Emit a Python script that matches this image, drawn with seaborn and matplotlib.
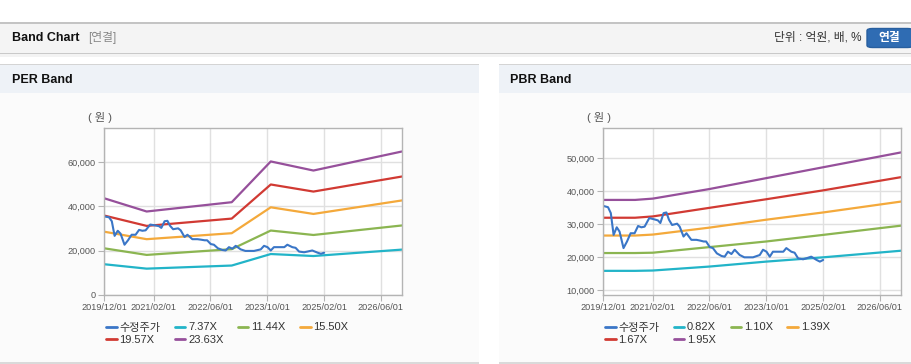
import pandas as pd
import matplotlib
matplotlib.use("Agg")
import matplotlib.pyplot as plt
import matplotlib.dates as mdates
from matplotlib.patches import Rectangle, FancyBboxPatch
from matplotlib.ticker import FuncFormatter
from matplotlib.lines import Line2D
import seaborn as sns

# adjusted share price (수정주가)
price_dates = ['2019-12-01', '2020-01-13', '2020-02-06', '2020-03-01', '2020-03-28', '2020-04-21',
               '2020-05-25', '2020-06-24', '2020-07-25', '2020-08-28', '2020-09-27', '2020-10-25',
               '2020-11-22', '2021-01-01', '2021-02-04', '2021-03-16', '2021-04-06', '2021-05-04',
               '2021-05-28', '2021-06-19', '2021-07-16', '2021-08-28', '2021-09-19', '2021-10-22',
               '2021-11-16', '2021-12-28', '2022-02-10', '2022-03-10', '2022-04-13', '2022-05-04',
               '2022-06-04', '2022-07-01', '2022-08-04', '2022-09-13', '2022-10-10', '2022-11-07',
               '2022-12-07', '2023-01-04', '2023-02-16', '2023-03-28', '2023-06-10', '2023-08-07',
               '2023-09-04', '2023-10-04', '2023-11-01', '2023-11-28', '2024-01-10', '2024-02-25',
               '2024-03-22', '2024-05-04', '2024-06-01', '2024-07-01', '2024-08-13', '2024-09-10',
               '2024-10-22', '2024-12-07', '2025-01-04', '2025-02-01']
price_vals = [35500, 35100, 33300, 26700, 29000, 27700,
              22700, 24700, 27200, 27200, 29400, 29000,
              29200, 31800, 31500, 31100, 30300, 33300,
              33500, 31300, 29700, 30100, 29200, 26200,
              27200, 25200, 25200, 25000, 24700, 24700,
              23000, 22700, 21100, 20300, 20100, 21600,
              20900, 22200, 20600, 19900, 19900, 20600,
              22200, 21600, 20100, 21600, 21600, 21600,
              22700, 21600, 21300, 19600, 19300, 19600,
              20100, 19100, 18600, 19100]

# PER band
per_dates = ['2019-12-01', '2020-12-01', '2022-12-01', '2023-11-01', '2024-11-01', '2026-12-01']
per_labels = ['7.37X', '11.44X', '15.50X', '19.57X', '23.63X']
per_737 = [13900, 11900, 13300, 18500, 17600, 20500]
per_1144 = [21100, 18100, 20700, 29100, 27100, 31400]
per_1550 = [28600, 25200, 27900, 39600, 36600, 42700]
per_1957 = [35900, 31200, 34500, 49900, 46700, 53500]
per_2363 = [43700, 37700, 41900, 60300, 56200, 64800]

# PBR band
pbr_dates = ['2019-12-01', '2020-09-01', '2021-02-01', '2022-06-01', '2023-10-01', '2025-02-01', '2026-12-01']
pbr_labels = ['0.82X', '1.10X', '1.39X', '1.67X', '1.95X']
pbr_082 = [15800, 15800, 15900, 17100, 18600, 19900, 21900]
pbr_110 = [21200, 21200, 21300, 23000, 24700, 26700, 29500]
pbr_139 = [26500, 26500, 26800, 28900, 31300, 33500, 36800]
pbr_167 = [31900, 31900, 32300, 34900, 37500, 40200, 44200]
pbr_195 = [37300, 37300, 37700, 40600, 43900, 47200, 51700]

x_ticks = ['2019-12-01', '2021-02-01', '2022-06-01', '2023-10-01', '2025-02-01', '2026-06-01']

price_color = '#3a76c7'
band_colors = ['#22b4c8', '#8bb551', '#f4a93b', '#d13a33', '#96509b']

sns.set_style("white")
plt.rcParams['font.family'] = ['Liberation Sans', 'Noto Sans CJK KR', 'DejaVu Sans']

W, H = 912, 364
fig = plt.figure(figsize=(W / 100, H / 100), dpi=100)
fig.patch.set_facecolor('white')


def box(x, y, w, h, color, z=-5):
    fig.add_artist(Rectangle((x / W, 1 - (y + h) / H), w / W, h / H, transform=fig.transFigure,
                             facecolor=color, edgecolor='none', zorder=z))


def txt(x, y, s, **kw):
    fig.text(x / W, 1 - y / H, s, va='center', **kw)


# page header bar
box(0, 22, W, 1.5, '#c4c4c4')
box(0, 23.5, W, 29, '#f4f4f4')
box(0, 52.5, W, 1.5, '#c9c9c9')
box(0, 54, W, 3, '#f3f3f3')
txt(12, 38, 'Band Chart', fontsize=9, fontweight='bold', color='#111111')
txt(88, 38, '[연결]', fontsize=8.5, color='#888888')
txt(862, 38, '단위 : 억원, 배, %', fontsize=8.5, color='#333333', ha='right')
fig.add_artist(FancyBboxPatch((867 / W, 1 - 47.5 / H), 46 / W, 19 / H, boxstyle='round,pad=0,rounding_size=0.006',
                              transform=fig.transFigure, facecolor='#2f6cb3', edgecolor='#285f9f', zorder=-4))
txt(889, 38, '연결', fontsize=8.5, fontweight='bold', color='white', ha='center')

# panels
for px0, px1 in [(0, 479), (499, W)]:
    box(px0, 63.5, px1 - px0, 1.5, '#d4d4d4')
    box(px0, 65, px1 - px0, 28, '#eef2f7')
    box(px0, 93, px1 - px0, 269, '#fbfbfb')
    box(px0, 361.5, px1 - px0, 2.5, '#dadada')
txt(12, 80, 'PER Band', fontsize=9, fontweight='bold', color='#111111')
txt(510, 80, 'PBR Band', fontsize=9, fontweight='bold', color='#111111')
txt(88, 118, '( 원 )', fontsize=8, color='#555555')
txt(587, 118, '( 원 )', fontsize=8, color='#555555')


def draw_panel(left, ylim, yticks, dates, bands, labels, legend_x):
    ax = fig.add_axes([left / W, 1 - 295 / H, 298 / W, 167 / H])
    ax.set_facecolor('white')
    # light grid at tick positions
    for t in x_ticks:
        ax.axvline(pd.Timestamp(t), color='#e0e0e0', linewidth=1.0, zorder=0.5)
    for v in yticks:
        ax.axhline(v, color='#e0e0e0', linewidth=1.0, zorder=0.5)
    d = pd.to_datetime(dates)
    for vals, lab, col in zip(bands, labels, band_colors):
        sns.lineplot(x=d, y=vals, ax=ax, color=col, linewidth=1.6, label=lab)
    sns.lineplot(x=pd.to_datetime(price_dates), y=price_vals, ax=ax, color=price_color,
                 linewidth=1.5, label='수정주가')
    ax.set_xlim(pd.Timestamp('2019-12-01'), pd.Timestamp('2026-12-01'))
    ax.set_ylim(*ylim)
    ax.set_xticks(pd.to_datetime(x_ticks))
    ax.xaxis.set_major_formatter(mdates.DateFormatter('%Y/%m/%d'))
    ax.set_yticks(yticks)
    ax.yaxis.set_major_formatter(FuncFormatter(lambda v, p: f'{int(v):,}'))
    ax.tick_params(axis='both', labelsize=6.6, labelcolor='#555555', color='#b4b4b4',
                   length=4, width=0.8, direction='out', pad=2, bottom=True, left=True)
    for s in ax.spines.values():
        s.set_visible(True)
        s.set_color('#b4b4b4')
        s.set_linewidth(1)
    ax.set_xlabel('')
    ax.set_ylabel('')
    ax.get_legend().remove()

    handles = [Line2D([], [], color=price_color, lw=2)] + [Line2D([], [], color=c, lw=2) for c in band_colors]
    names = ['수정주가'] + labels
    order = [0, 4, 1, 5, 2, 3]
    fig.legend([handles[i] for i in order], [names[i] for i in order], ncol=4,
               loc='upper left', bbox_to_anchor=(legend_x / W, 1 - 322.5 / H),
               frameon=False, fontsize=8, handlelength=0.95, handletextpad=0.25,
               columnspacing=1.3, labelspacing=0.25, borderpad=0, borderaxespad=0,
               labelcolor='#333333')
    return ax


draw_panel(104, (0, 75400), [0, 20000, 40000, 60000], per_dates,
           [per_737, per_1144, per_1550, per_1957, per_2363], per_labels, 106)
draw_panel(603, (8480, 59100), [10000, 20000, 30000, 40000, 50000], pbr_dates,
           [pbr_082, pbr_110, pbr_139, pbr_167, pbr_195], pbr_labels, 605)

fig.savefig('out.png', dpi=100)
